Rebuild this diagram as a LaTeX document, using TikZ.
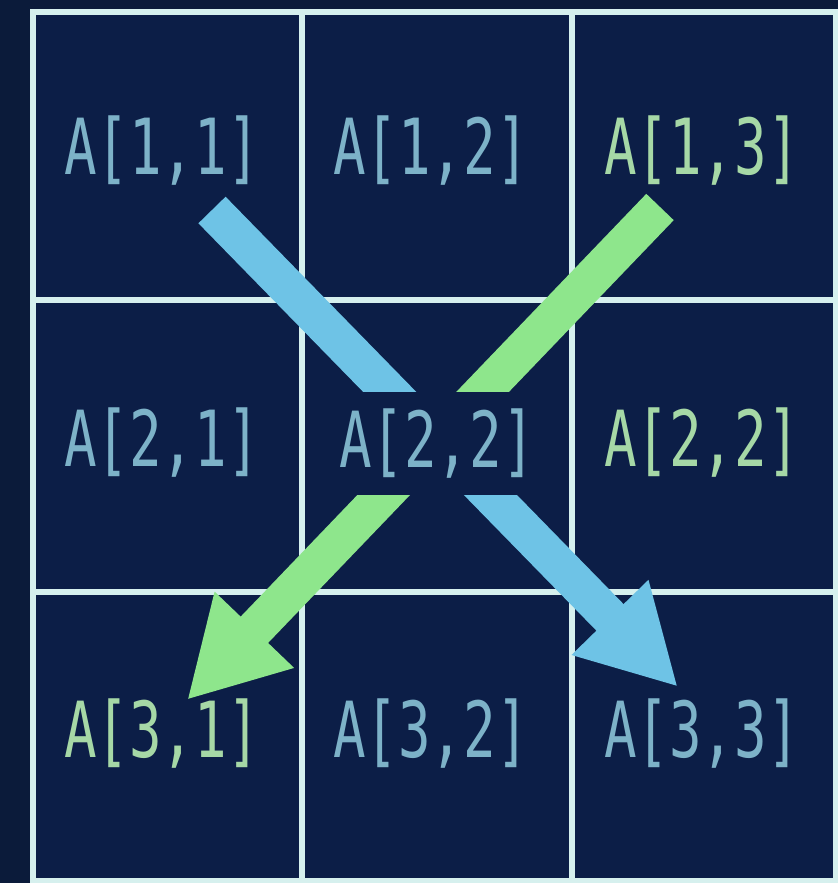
\documentclass[tikz,border=0pt]{standalone}
\usepackage{fontspec}
\newfontfamily\monof{DejaVu Sans Mono}
\usetikzlibrary{arrows.meta}
\definecolor{bgout}{HTML}{0B1B3A}
\definecolor{bgcell}{HTML}{0C1E47}
\definecolor{gridc}{HTML}{D6F0EE}
\definecolor{arrblue}{HTML}{6EC3E6}
\definecolor{arrgreen}{HTML}{8EE68C}
\definecolor{txtblue}{HTML}{7DB2C8}
\definecolor{txtgreen}{HTML}{A6D8A6}
\newcommand\celltxt[1]{\scalebox{0.70}[1]{#1}}
\tikzset{
  gridline/.style={draw=gridc, line width=4.5pt},
  lbl/.style={inner sep=0pt, font=\monof\fontsize{58}{60}\selectfont},
  lblb/.style={lbl, text=txtblue},
  lblg/.style={lbl, text=txtgreen},
  barblue/.style={draw=arrblue, line width=28.5pt, -{Triangle[length=73pt,width=75pt]}},
  bargreen/.style={draw=arrgreen, line width=28.5pt, -{Triangle[length=73pt,width=77pt]}},
}
\begin{document}
\begin{tikzpicture}[x=0.75pt,y=-0.75pt]
\fill[bgout] (0,0) rectangle (838,883);
\useasboundingbox (0,0) rectangle (838,883);
\fill[bgcell] (33,12) rectangle (836,881);
\draw[gridline] (33,12) rectangle (836,881);
\draw[gridline] (302,12) -- (302,881);
\draw[gridline] (572,12) -- (572,881);
\draw[gridline] (33,300) -- (836,300);
\draw[gridline] (33,592) -- (836,592);
% arrows
\coordinate (bs) at (212,210);
\coordinate (be) at (678,687);
\coordinate (gs) at (660,207);
\coordinate (ge) at (187,700);
\draw[barblue] (bs) -- (be);
\draw[bargreen] (gs) -- (ge);
% labels
\node[lblb] (a11) at (162,151) {\celltxt{A[1,1]}};
\node[lblb] (a12) at (431,151) {\celltxt{A[1,2]}};
\node[lblg] (a13) at (702,151) {\celltxt{A[1,3]}};
\node[lblb] (a21) at (162,443) {\celltxt{A[2,1]}};
\node[lblb, fill=bgcell, minimum width=172pt, minimum height=77pt] (a22) at (437,443.5) {\celltxt{A[2,2]}};
\node[lblg] (a23) at (702,443) {\celltxt{A[2,2]}};
\node[lblg] (a31) at (162,734) {\celltxt{A[3,1]}};
\node[lblb] (a32) at (431,734) {\celltxt{A[3,2]}};
\node[lblb] (a33) at (702,734) {\celltxt{A[3,3]}};
\end{tikzpicture}
\end{document}
